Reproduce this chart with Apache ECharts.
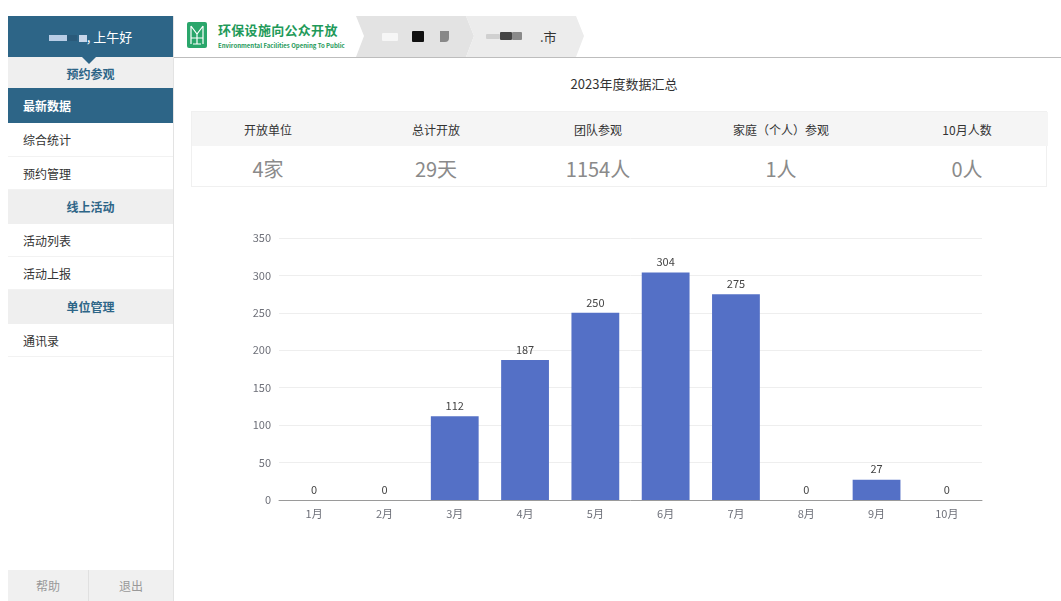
<!DOCTYPE html>
<html><head><meta charset="utf-8">
<script src="https://cdn.jsdelivr.net/npm/echarts@6/dist/echarts.min.js"></script>
<style>
html,body{margin:0;padding:0;width:1061px;height:601px;overflow:hidden;background:#fff;font-family:"Noto Sans CJK SC","Noto Sans",sans-serif;}
.abs{position:absolute;}
#side{left:8px;top:16px;width:165px;height:585px;border-right:1px solid #e3e3e3;background:#fff;}
#sideHead{left:0;top:0;width:165px;height:41px;background:#2d6587;color:#fff;font-size:13px;line-height:41px;text-align:center;}
.tri{left:74px;top:41px;width:0;height:0;border-left:7px solid transparent;border-right:7px solid transparent;border-top:7px solid #2d6587;z-index:3;}
.sec{left:0;width:165px;height:33px;background:#efefef;color:#2d6587;font-weight:bold;font-size:12px;line-height:33px;text-align:center;}
.item{left:0;width:165px;height:33px;color:#333;font-size:12px;line-height:33px;padding-left:15px;box-sizing:border-box;border-bottom:1px solid #f2f2f2;}
.sel{background:#2d6587;color:#fff;font-weight:bold;border-bottom:none;}
.btn{top:554px;height:31px;background:#f0f0f0;color:#999;font-size:12px;line-height:31px;text-align:center;}
#top{left:174px;top:16px;width:887px;height:41px;background:#fff;border-bottom:1px solid #bdbdbd;}
.logo{left:13px;top:6px;width:20px;height:26px;background:#2aa66b;border-radius:2px;}
.ttl{left:44px;top:4px;color:#1f9a5a;font-size:13px;font-weight:bold;letter-spacing:0.3px;}
.sub{left:44px;top:25px;color:#1f9a5a;font-size:7px;font-weight:bold;transform:scale(0.86,0.9);transform-origin:left top;white-space:nowrap;}
.blk{position:absolute;border-radius:1px;}
#title{left:173px;top:74px;width:902px;text-align:center;font-size:13px;color:#333;}
#tbl{left:191px;top:111px;width:856px;height:76px;border:1px solid #f0f0f0;box-sizing:border-box;}
#tblHead{left:0;top:0;width:856px;height:34px;background:#f5f5f5;}
.th{top:9px;font-size:12px;color:#333;transform:translateX(-50%);white-space:nowrap;}
.td{top:42px;font-size:20px;color:#8a8a8a;transform:translateX(-50%);white-space:nowrap;}
#chart{left:173px;top:200px;width:888px;height:401px;}
</style></head>
<body>
<div id="side" class="abs">
  <div id="sideHead" class="abs"><span style="display:inline-block;width:18px;height:6px;background:#b8cde6;vertical-align:middle;"></span><span style="display:inline-block;width:10px;height:6px;background:#2a5a7a;vertical-align:middle;"></span><span style="display:inline-block;width:8px;height:7px;background:#c7d6ea;vertical-align:middle;margin-left:2px;"></span>, 上午好</div>
  <div class="tri abs"></div>
  <div class="sec abs" style="top:41px;">预约参观</div>
  <div class="item sel abs" style="top:72px;height:35px;line-height:35px;">最新数据</div>
  <div class="item abs" style="top:107px;height:34px;line-height:34px;">综合统计</div>
  <div class="item abs" style="top:141px;">预约管理</div>
  <div class="sec abs" style="top:174px;height:34px;line-height:34px;">线上活动</div>
  <div class="item abs" style="top:208px;">活动列表</div>
  <div class="item abs" style="top:241px;">活动上报</div>
  <div class="sec abs" style="top:274px;height:34px;line-height:34px;">单位管理</div>
  <div class="item abs" style="top:308px;">通讯录</div>
  <div class="btn abs" style="left:0;width:80px;border-right:1px solid #e0e0e0;">帮助</div>
  <div class="btn abs" style="left:81px;width:84px;">退出</div>
</div>
<div id="top" class="abs">
  <div class="logo abs">
    <svg width="20" height="26" style="position:absolute;left:0;top:0">
      <path d="M4,4 L10,12 L16,4 M4,4 L4,22 M16,4 L16,22 M10,12 L10,22 M4,16 L16,16 M6,22 L14,22" stroke="#fff" stroke-width="1.2" fill="none"/>
    </svg>
  </div>
  <div class="ttl abs">环保设施向公众开放</div>
  <div class="sub abs">Environmental Facilities Opening To Public</div>
  <svg class="abs" style="left:182px;top:0" width="230" height="41">
    <polygon points="0,0 110,0 118,20 110,41 0,41 8,20" fill="#e3e3e3"/>
    <polygon points="110,0 220,0 228,20 220,41 110,41 118,20" fill="#ececec"/>
  </svg>
  <div class="blk" style="left:208px;top:17px;width:16px;height:8px;background:#f6f6f6;"></div>
  <div class="blk" style="left:238px;top:15px;width:12px;height:11px;background:#111;"></div>
  <div class="blk" style="left:266px;top:15px;width:9px;height:11px;background:#888;border-radius:0 0 4px 0;"></div>
  <div class="blk" style="left:312px;top:18px;width:14px;height:5px;background:#d0d0d0;"></div>
  <div class="blk" style="left:326px;top:16px;width:12px;height:8px;background:#444;"></div>
  <div class="blk" style="left:338px;top:16px;width:10px;height:8px;background:#8a8a8a;"></div>
  <div class="abs" style="left:366px;top:11px;font-size:13px;color:#333;">.市</div>
</div>
<div id="title" class="abs" style="left:173px;width:902px;">2023年度数据汇总</div>
<div id="tbl" class="abs"><div id="tblHead" class="abs"></div><div id="cells"></div></div>
<div id="chart" class="abs"></div>
<script>
var months = ['1月','2月','3月','4月','5月','6月','7月','8月','9月','10月'];
var visitors = [0, 0, 112, 187, 250, 304, 275, 0, 27, 0];
var summaryLabels = ['开放单位','总计开放','团队参观','家庭（个人）参观','10月人数'];
var summaryValues = ['4家','29天','1154人','1人','0人'];
var yTicks = {min:0, max:350, interval:50};

var centers = [76, 244, 406, 589, 775];
var cells = document.getElementById('cells');
summaryLabels.forEach(function(l,i){
  var h=document.createElement('div'); h.className='th abs'; h.style.left=centers[i]+'px'; h.textContent=l; cells.appendChild(h);
  var d=document.createElement('div'); d.className='td abs'; d.style.left=centers[i]+'px'; d.textContent=summaryValues[i]; cells.appendChild(d);
});

var chart = echarts.init(document.getElementById('chart'));
chart.setOption({
  animation:false,
  textStyle:{fontFamily:'"Noto Sans CJK SC","Noto Sans",sans-serif'},
  grid:{left:106,right:79,top:38,bottom:101},
  xAxis:{type:'category',data:months,
    axisLine:{lineStyle:{color:'#9a9a9a'}},
    axisTick:{lineStyle:{color:'#9a9a9a'}},
    axisLabel:{color:'#6e7079',fontSize:11,margin:8}},
  yAxis:{type:'value',min:yTicks.min,max:yTicks.max,interval:yTicks.interval,
    axisLabel:{color:'#6e7079',fontSize:11,margin:8},
    splitLine:{lineStyle:{color:'#eeeeee'}}},
  series:[{type:'bar',data:visitors,barWidth:'68%',
    itemStyle:{color:'#5470c6'},
    label:{show:true,position:'top',color:'#444',fontSize:11}}]
});
</script>
</body></html>
